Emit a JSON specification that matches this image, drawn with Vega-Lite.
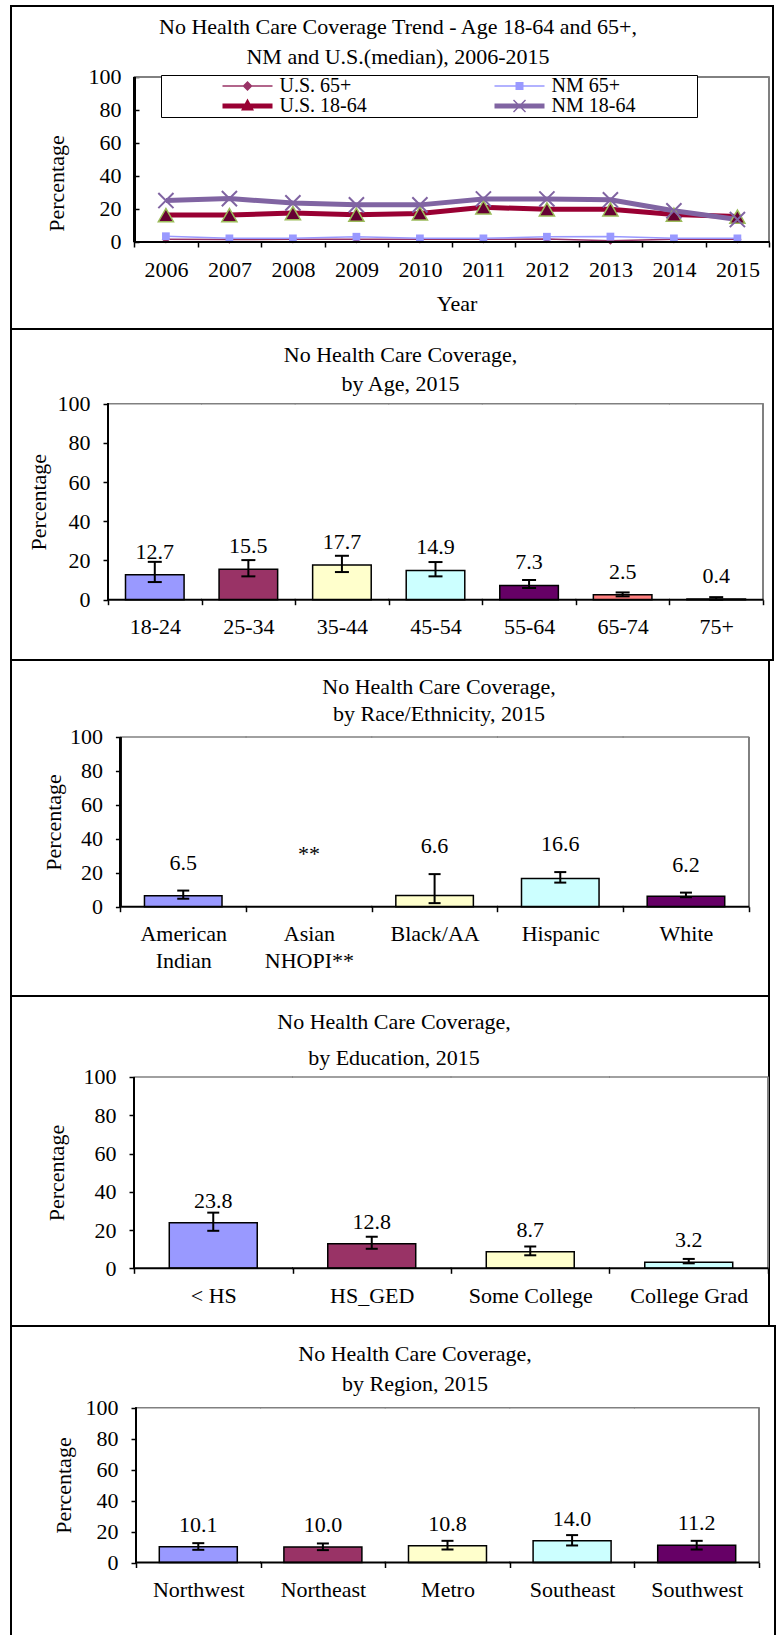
{
  "$schema": "https://vega.github.io/schema/vega-lite/v6.json",
  "background": "white",
  "padding": {"left": 10, "top": 5, "right": 2, "bottom": 0},
  "spacing": 0,
  "bounds": "flush",
  "resolve": {"scale": {"fill": "independent"}},
  "config": {
    "font": "Liberation Serif",
    "view": {"stroke": "black", "strokeWidth": 2},
    "axis": {"labelFont": "Liberation Serif", "labelFontSize": 22, "labelColor": "black", "titleFont": "Liberation Serif", "titleFontSize": 22, "titleFontWeight": "normal", "titleColor": "black", "tickColor": "black", "tickWidth": 1.5, "tickSize": 5, "grid": false, "domain": false, "labelPadding": 12},
    "axisY": {"labelPadding": 13},
    "title": {"font": "Liberation Serif", "fontSize": 22, "fontWeight": "normal", "color": "black", "anchor": "middle", "frame": "group"},
    "text": {"font": "Liberation Serif", "fontSize": 22, "color": "black", "baseline": "middle"},
    "legend": {"labelFont": "Liberation Serif", "titleFont": "Liberation Serif"}
  },
  "vconcat": [
    {
      "width": 762, "height": 323,
      "title": {"text": ["No Health Care Coverage Trend - Age 18-64 and 65+,", "NM and U.S.(median), 2006-2015"], "offset": -62.5, "lineHeight": 30, "dx": 6},
      "data": {"values": [
        {"year": "2006", "series": "U.S. 65+", "v": 1.6}, {"year": "2007", "series": "U.S. 65+", "v": 1.5}, {"year": "2008", "series": "U.S. 65+", "v": 1.6}, {"year": "2009", "series": "U.S. 65+", "v": 1.6}, {"year": "2010", "series": "U.S. 65+", "v": 1.6}, {"year": "2011", "series": "U.S. 65+", "v": 1.6}, {"year": "2012", "series": "U.S. 65+", "v": 1.8}, {"year": "2013", "series": "U.S. 65+", "v": 0.8}, {"year": "2014", "series": "U.S. 65+", "v": 1.6}, {"year": "2015", "series": "U.S. 65+", "v": 1.6},
        {"year": "2006", "series": "NM 65+", "v": 3.5}, {"year": "2007", "series": "NM 65+", "v": 2.2}, {"year": "2008", "series": "NM 65+", "v": 2.2}, {"year": "2009", "series": "NM 65+", "v": 3.2}, {"year": "2010", "series": "NM 65+", "v": 2.2}, {"year": "2011", "series": "NM 65+", "v": 2.2}, {"year": "2012", "series": "NM 65+", "v": 3.2}, {"year": "2013", "series": "NM 65+", "v": 3.3}, {"year": "2014", "series": "NM 65+", "v": 2.2}, {"year": "2015", "series": "NM 65+", "v": 2.2},
        {"year": "2006", "series": "U.S. 18-64", "v": 16.3}, {"year": "2007", "series": "U.S. 18-64", "v": 16.3}, {"year": "2008", "series": "U.S. 18-64", "v": 17.5}, {"year": "2009", "series": "U.S. 18-64", "v": 16.5}, {"year": "2010", "series": "U.S. 18-64", "v": 17.3}, {"year": "2011", "series": "U.S. 18-64", "v": 21.0}, {"year": "2012", "series": "U.S. 18-64", "v": 19.8}, {"year": "2013", "series": "U.S. 18-64", "v": 19.8}, {"year": "2014", "series": "U.S. 18-64", "v": 16.6}, {"year": "2015", "series": "U.S. 18-64", "v": 15.4},
        {"year": "2006", "series": "NM 18-64", "v": 25.1}, {"year": "2007", "series": "NM 18-64", "v": 26.3}, {"year": "2008", "series": "NM 18-64", "v": 23.7}, {"year": "2009", "series": "NM 18-64", "v": 22.5}, {"year": "2010", "series": "NM 18-64", "v": 22.5}, {"year": "2011", "series": "NM 18-64", "v": 26.1}, {"year": "2012", "series": "NM 18-64", "v": 26.1}, {"year": "2013", "series": "NM 18-64", "v": 25.6}, {"year": "2014", "series": "NM 18-64", "v": 18.9}, {"year": "2015", "series": "NM 18-64", "v": 13.6}
      ]},
      "encoding": {
        "x": {"field": "year", "type": "nominal", "sort": null,
          "scale": {"domain": ["2006", "2007", "2008", "2009", "2010", "2011", "2012", "2013", "2014", "2015"], "paddingInner": 0, "paddingOuter": 1.0476, "align": 0.9697},
          "axis": {"title": "Year", "titleX": 445.6, "titleY": 61, "titleBaseline": "middle", "labelAngle": 0, "tickBand": "extent", "offset": -87}}
      },
      "layer": [
        {"mark": {"type": "tick", "orient": "horizontal", "color": "#808080", "thickness": 1.5, "size": 64, "opacity": 1},
         "encoding": {"y": {"datum": 100, "type": "quantitative", "scale": {"domain": [-52.73, 143.03], "nice": false, "zero": false}}}},
        {"mark": {"type": "rule", "color": "#808080", "strokeWidth": 1.5},
         "encoding": {"x": {"datum": "2015", "type": "nominal", "bandPosition": 1}, "y": {"datum": 0, "type": "quantitative", "scale": {"domain": [-52.73, 143.03], "nice": false, "zero": false}}, "y2": {"datum": 100}}},
        {"transform": [{"filter": "datum.series == 'U.S. 65+'"}],
         "mark": {"type": "line", "strokeWidth": 1.5, "color": "#993366"},
         "encoding": {
           "y": {"field": "v", "type": "quantitative", "scale": {"domain": [-52.73, 143.03], "nice": false, "zero": false},
             "axis": {"values": [0, 20, 40, 60, 80, 100], "offset": -128, "title": "Percentage", "titleX": -83, "titleY": 177, "titleBaseline": "middle"}}
         }},
        {"transform": [{"filter": "datum.series == 'NM 65+'"}],
         "mark": {"type": "line", "strokeWidth": 1.5, "color": "#9999FF"},
         "encoding": {"y": {"field": "v", "type": "quantitative", "scale": {"domain": [-52.73, 143.03], "nice": false, "zero": false}}}},
        {"transform": [{"filter": "datum.series == 'U.S. 18-64'"}],
         "mark": {"type": "line", "strokeWidth": 5, "color": "#990033"},
         "encoding": {"y": {"field": "v", "type": "quantitative", "scale": {"domain": [-52.73, 143.03], "nice": false, "zero": false}}}},
        {"transform": [{"filter": "datum.series == 'NM 18-64'"}],
         "mark": {"type": "line", "strokeWidth": 5, "color": "#8064A2"},
         "encoding": {"y": {"field": "v", "type": "quantitative", "scale": {"domain": [-52.73, 143.03], "nice": false, "zero": false}}}},
        {"transform": [{"filter": "datum.series == 'U.S. 65+'"}],
         "mark": {"type": "point", "shape": "diamond", "filled": true, "color": "#993366", "size": 70, "opacity": 1},
         "encoding": {"y": {"field": "v", "type": "quantitative", "scale": {"domain": [-52.73, 143.03], "nice": false, "zero": false}}}},
        {"transform": [{"filter": "datum.series == 'NM 65+'"}],
         "mark": {"type": "point", "shape": "square", "filled": true, "color": "#9999FF", "size": 60, "opacity": 1},
         "encoding": {"y": {"field": "v", "type": "quantitative", "scale": {"domain": [-52.73, 143.03], "nice": false, "zero": false}}}},
        {"transform": [{"filter": "datum.series == 'U.S. 18-64'"}],
         "mark": {"type": "point", "shape": "triangle-up", "filled": true, "fill": "#660033", "stroke": "#9BBB59", "strokeWidth": 1.5, "size": 230, "opacity": 1},
         "encoding": {"y": {"field": "v", "type": "quantitative", "scale": {"domain": [-52.73, 143.03], "nice": false, "zero": false}}}},
        {"transform": [{"filter": "datum.series == 'NM 18-64'"}],
         "mark": {"type": "point", "shape": "M-1,-1L1,1M-1,1L1,-1", "filled": false, "stroke": "#8064A2", "strokeWidth": 2, "size": 230, "opacity": 1},
         "encoding": {"y": {"field": "v", "type": "quantitative", "scale": {"domain": [-52.73, 143.03], "nice": false, "zero": false}}}},
        {"transform": [{"filter": "false"}],
         "mark": {"type": "point", "filled": true, "size": 400},
         "encoding": {
           "y": {"field": "v", "type": "quantitative", "scale": {"domain": [-52.73, 143.03], "nice": false, "zero": false}},
           "shape": {"field": "series", "type": "nominal",
             "scale": {"domain": ["U.S. 65+", "NM 65+", "U.S. 18-64", "NM 18-64"], "range": [
               "M-2.5,-0.075L2.5,-0.075L2.5,0.075L-2.5,0.075Z M0,-0.5L0.5,0L0,0.5L-0.5,0Z",
               "M-2.5,-0.075L2.5,-0.075L2.5,0.075L-2.5,0.075Z M-0.4,-0.4L0.4,-0.4L0.4,0.4L-0.4,0.4Z",
               "M-2.5,-0.25L2.5,-0.25L2.5,0.25L-2.5,0.25Z M0,-0.75L0.65,0.45L-0.65,0.45Z",
               "M-2.5,-0.25L2.5,-0.25L2.5,0.25L-2.5,0.25Z M-0.65,-0.55L-0.55,-0.65L0.65,0.55L0.55,0.65Z M-0.65,0.55L0.55,-0.65L0.65,-0.55L-0.55,0.65Z"]},
             "legend": {"title": " ", "titleOrient": "left", "titlePadding": 60.5, "titleFontSize": 22, "orient": "none", "legendX": 150, "legendY": 69, "columns": 2, "direction": "horizontal", "columnPadding": 127, "rowPadding": 0, "padding": 1, "strokeColor": "black", "fillColor": "white", "symbolSize": 400, "symbolOffset": 15, "labelOffset": 22, "labelFontSize": 20, "labelColor": "black", "labelLimit": 400, "symbolStrokeWidth": 0, "symbolOpacity": 1, "labelExpr": "indexof(datum.label, 'NM') == 0 ? datum.label + '\u2800\u2800\u2800\u2800' : datum.label"}},
           "color": {"field": "series", "type": "nominal",
             "scale": {"domain": ["U.S. 65+", "NM 65+", "U.S. 18-64", "NM 18-64"], "range": ["#993366", "#9999FF", "#990033", "#8064A2"]},
             "legend": {"title": " ", "titleOrient": "left", "titlePadding": 60.5, "titleFontSize": 22, "orient": "none", "legendX": 150, "legendY": 69, "columns": 2, "direction": "horizontal", "columnPadding": 127, "rowPadding": 0, "padding": 1, "strokeColor": "black", "fillColor": "white", "symbolSize": 400, "symbolOffset": 15, "labelOffset": 22, "labelFontSize": 20, "labelColor": "black", "labelLimit": 400, "symbolStrokeWidth": 0, "symbolOpacity": 1, "labelExpr": "indexof(datum.label, 'NM') == 0 ? datum.label + '\u2800\u2800\u2800\u2800' : datum.label"}}
         }},
        {"mark": {"type": "tick", "orient": "horizontal", "color": "black", "thickness": 2, "size": 64, "opacity": 1},
         "encoding": {"y": {"datum": 0, "type": "quantitative", "scale": {"domain": [-52.73, 143.03], "nice": false, "zero": false}}}},
        {"mark": {"type": "rule", "color": "black", "strokeWidth": 2},
         "encoding": {"x": {"datum": "2006", "type": "nominal", "bandPosition": 0}, "y": {"datum": 0, "type": "quantitative", "scale": {"domain": [-52.73, 143.03], "nice": false, "zero": false}}, "y2": {"datum": 100}}}
      ]
    },
    {
      "width": 762, "height": 331,
      "title": {"text": ["No Health Care Coverage,", "by Age, 2015"], "offset": -66.5, "lineHeight": 29, "dx": 8.5},
      "data": {"values": [
        {"age": "18-24", "pct": 12.7, "lo": 9.0, "hi": 19.3},
        {"age": "25-34", "pct": 15.5, "lo": 11.9, "hi": 20.2},
        {"age": "35-44", "pct": 17.7, "lo": 14.1, "hi": 22.4},
        {"age": "45-54", "pct": 14.9, "lo": 11.9, "hi": 19.2},
        {"age": "55-64", "pct": 7.3, "lo": 5.9, "hi": 10.0},
        {"age": "65-74", "pct": 2.5, "lo": 1.7, "hi": 3.7},
        {"age": "75+", "pct": 0.4, "lo": 0.0, "hi": 1.3}
      ]},
      "encoding": {
        "x": {"field": "age", "type": "nominal", "sort": null,
          "scale": {"domain": ["18-24", "25-34", "35-44", "45-54", "55-64", "65-74", "75+"], "paddingInner": 0, "paddingOuter": 0.5718, "align": 0.9065},
          "axis": {"title": null, "labelAngle": 0, "tickBand": "extent", "offset": -60.3}}
      },
      "layer": [
        {"mark": {"type": "tick", "orient": "horizontal", "color": "#808080", "thickness": 1.5, "size": 94.6, "opacity": 1},
         "encoding": {"y": {"datum": 100, "type": "quantitative", "scale": {"domain": [-30.77, 138.1], "nice": false, "zero": false}}}},
        {"mark": {"type": "rule", "color": "#808080", "strokeWidth": 1.5},
         "encoding": {"x": {"datum": "75+", "type": "nominal", "bandPosition": 1}, "y": {"datum": 0, "type": "quantitative", "scale": {"domain": [-30.77, 138.1], "nice": false, "zero": false}}, "y2": {"datum": 100}}},
        {"mark": {"type": "bar", "width": {"band": 0.626}, "stroke": "black", "strokeWidth": 1.5},
         "encoding": {
           "y": {"field": "pct", "type": "quantitative", "scale": {"domain": [-30.77, 138.1], "nice": false, "zero": false},
             "axis": {"values": [0, 20, 40, 60, 80, 100], "offset": -97, "title": "Percentage", "titleX": -70, "titleY": 172.7, "titleBaseline": "middle"}},
           "fill": {"field": "age", "type": "nominal", "scale": {"domain": ["18-24", "25-34", "35-44", "45-54", "55-64", "65-74", "75+"], "range": ["#9999FF", "#993366", "#FFFFCC", "#CCFFFF", "#660066", "#FF8080", "#0066CC"]}, "legend": null}
         }},
        {"mark": {"type": "rule", "color": "black", "strokeWidth": 2},
         "encoding": {"y": {"field": "lo", "type": "quantitative", "scale": {"domain": [-30.77, 138.1], "nice": false, "zero": false}}, "y2": {"field": "hi"}}},
        {"transform": [{"fold": ["lo", "hi"], "as": ["end", "val"]}],
         "mark": {"type": "tick", "orient": "horizontal", "color": "black", "thickness": 2, "size": 14, "opacity": 1},
         "encoding": {"y": {"field": "val", "type": "quantitative", "scale": {"domain": [-30.77, 138.1], "nice": false, "zero": false}}}},
        {"mark": {"type": "text", "dy": -23},
         "encoding": {"y": {"field": "pct", "type": "quantitative", "scale": {"domain": [-30.77, 138.1], "nice": false, "zero": false}}, "text": {"field": "pct", "type": "quantitative", "format": ".1f"}}},
        {"mark": {"type": "tick", "orient": "horizontal", "color": "black", "thickness": 2, "size": 94.6, "opacity": 1},
         "encoding": {"y": {"datum": 0, "type": "quantitative", "scale": {"domain": [-30.77, 138.1], "nice": false, "zero": false}}}},
        {"mark": {"type": "rule", "color": "black", "strokeWidth": 2},
         "encoding": {"x": {"datum": "18-24", "type": "nominal", "bandPosition": 0}, "y": {"datum": 0, "type": "quantitative", "scale": {"domain": [-30.77, 138.1], "nice": false, "zero": false}}, "y2": {"datum": 100}}}
      ]
    },
    {
      "width": 758, "height": 336,
      "title": {"text": ["No Health Care Coverage,", "by Race/Ethnicity, 2015"], "offset": -65.5, "lineHeight": 27, "dx": 49},
      "data": {"values": [
        {"race": "American Indian", "pct": 6.5, "lo": 4.7, "hi": 9.5},
        {"race": "Asian NHOPI**", "pct": null, "lo": null, "hi": null, "note": "**"},
        {"race": "Black/AA", "pct": 6.6, "lo": 2.1, "hi": 19.2},
        {"race": "Hispanic", "pct": 16.6, "lo": 14.2, "hi": 20.4},
        {"race": "White", "pct": 6.2, "lo": 5.6, "hi": 8.3}
      ]},
      "encoding": {
        "x": {"field": "race", "type": "nominal", "sort": null,
          "scale": {"domain": ["American Indian", "Asian NHOPI**", "Black/AA", "Hispanic", "White"], "paddingInner": 0, "paddingOuter": 0.5156, "align": 0.8441},
          "axis": {"title": null, "labelAngle": 0, "tickBand": "extent", "offset": -89.3, "labelExpr": "split(datum.label, ' ')", "labelLineHeight": 27}}
      },
      "layer": [
        {"mark": {"type": "tick", "orient": "horizontal", "color": "#808080", "thickness": 1.5, "size": 126.7, "opacity": 1},
         "encoding": {"y": {"datum": 100, "type": "quantitative", "scale": {"domain": [-52.62, 145.37], "nice": false, "zero": false}}}},
        {"mark": {"type": "rule", "color": "#808080", "strokeWidth": 1.5},
         "encoding": {"x": {"datum": "White", "type": "nominal", "bandPosition": 1}, "y": {"datum": 0, "type": "quantitative", "scale": {"domain": [-52.62, 145.37], "nice": false, "zero": false}}, "y2": {"datum": 100}}},
        {"mark": {"type": "bar", "width": {"band": 0.617}, "stroke": "black", "strokeWidth": 1.5},
         "encoding": {
           "y": {"field": "pct", "type": "quantitative", "scale": {"domain": [-52.62, 145.37], "nice": false, "zero": false},
             "axis": {"values": [0, 20, 40, 60, 80, 100], "offset": -109.4, "title": "Percentage", "titleX": -67, "titleY": 161.9, "titleBaseline": "middle"}},
           "fill": {"field": "race", "type": "nominal", "scale": {"domain": ["American Indian", "Asian NHOPI**", "Black/AA", "Hispanic", "White"], "range": ["#9999FF", "#993366", "#FFFFCC", "#CCFFFF", "#660066"]}, "legend": null}
         }},
        {"mark": {"type": "rule", "color": "black", "strokeWidth": 2},
         "encoding": {"y": {"field": "lo", "type": "quantitative", "scale": {"domain": [-52.62, 145.37], "nice": false, "zero": false}}, "y2": {"field": "hi"}}},
        {"transform": [{"fold": ["lo", "hi"], "as": ["end", "val"]}],
         "mark": {"type": "tick", "orient": "horizontal", "color": "black", "thickness": 2, "size": 12, "opacity": 1},
         "encoding": {"y": {"field": "val", "type": "quantitative", "scale": {"domain": [-52.62, 145.37], "nice": false, "zero": false}}}},
        {"mark": {"type": "text", "dy": -28},
         "encoding": {"y": {"field": "hi", "type": "quantitative", "scale": {"domain": [-52.62, 145.37], "nice": false, "zero": false}}, "text": {"field": "pct", "type": "quantitative", "format": ".1f"}}},
        {"transform": [{"filter": "datum.note != null"}],
         "mark": {"type": "text", "baseline": "alphabetic", "dy": -46},
         "encoding": {"y": {"datum": 0, "type": "quantitative", "scale": {"domain": [-52.62, 145.37], "nice": false, "zero": false}}, "text": {"field": "note", "type": "nominal"}}},
        {"mark": {"type": "tick", "orient": "horizontal", "color": "black", "thickness": 2, "size": 126.7, "opacity": 1},
         "encoding": {"y": {"datum": 0, "type": "quantitative", "scale": {"domain": [-52.62, 145.37], "nice": false, "zero": false}}}},
        {"mark": {"type": "rule", "color": "black", "strokeWidth": 2},
         "encoding": {"x": {"datum": "American Indian", "type": "nominal", "bandPosition": 0}, "y": {"datum": 0, "type": "quantitative", "scale": {"domain": [-52.62, 145.37], "nice": false, "zero": false}}, "y2": {"datum": 100}}}
      ]
    },
    {
      "width": 758, "height": 330,
      "title": {"text": ["No Health Care Coverage,", "by Education, 2015"], "offset": -73.5, "lineHeight": 36, "dx": 4},
      "data": {"values": [
        {"edu": "< HS", "pct": 23.8, "lo": 19.6, "hi": 29.1},
        {"edu": "HS_GED", "pct": 12.8, "lo": 10.2, "hi": 16.5},
        {"edu": "Some College", "pct": 8.7, "lo": 6.8, "hi": 11.4},
        {"edu": "College Grad", "pct": 3.2, "lo": 2.6, "hi": 4.9}
      ]},
      "encoding": {
        "x": {"field": "edu", "type": "nominal", "sort": null,
          "scale": {"domain": ["< HS", "HS_GED", "Some College", "College Grad"], "paddingInner": 0, "paddingOuter": 0.3912, "align": 0.9919},
          "axis": {"title": null, "labelAngle": 0, "tickBand": "extent", "offset": -57.7}}
      },
      "layer": [
        {"mark": {"type": "tick", "orient": "horizontal", "color": "#808080", "thickness": 1.5, "size": 159.5, "opacity": 1},
         "encoding": {"y": {"datum": 100, "type": "quantitative", "scale": {"domain": [-30.16, 142.34], "nice": false, "zero": false}}}},
        {"mark": {"type": "rule", "color": "#808080", "strokeWidth": 1.5},
         "encoding": {"x": {"datum": "College Grad", "type": "nominal", "bandPosition": 1}, "y": {"datum": 0, "type": "quantitative", "scale": {"domain": [-30.16, 142.34], "nice": false, "zero": false}}, "y2": {"datum": 100}}},
        {"mark": {"type": "bar", "width": {"band": 0.555}, "stroke": "black", "strokeWidth": 1.5},
         "encoding": {
           "y": {"field": "pct", "type": "quantitative", "scale": {"domain": [-30.16, 142.34], "nice": false, "zero": false},
             "axis": {"values": [0, 20, 40, 60, 80, 100], "offset": -123, "title": "Percentage", "titleX": -78, "titleY": 176.6, "titleBaseline": "middle"}},
           "fill": {"field": "edu", "type": "nominal", "scale": {"domain": ["< HS", "HS_GED", "Some College", "College Grad"], "range": ["#9999FF", "#993366", "#FFFFCC", "#CCFFFF"]}, "legend": null}
         }},
        {"mark": {"type": "rule", "color": "black", "strokeWidth": 2},
         "encoding": {"y": {"field": "lo", "type": "quantitative", "scale": {"domain": [-30.16, 142.34], "nice": false, "zero": false}}, "y2": {"field": "hi"}}},
        {"transform": [{"fold": ["lo", "hi"], "as": ["end", "val"]}],
         "mark": {"type": "tick", "orient": "horizontal", "color": "black", "thickness": 2, "size": 12, "opacity": 1},
         "encoding": {"y": {"field": "val", "type": "quantitative", "scale": {"domain": [-30.16, 142.34], "nice": false, "zero": false}}}},
        {"mark": {"type": "text", "dy": -22},
         "encoding": {"y": {"field": "pct", "type": "quantitative", "scale": {"domain": [-30.16, 142.34], "nice": false, "zero": false}}, "text": {"field": "pct", "type": "quantitative", "format": ".1f"}}},
        {"mark": {"type": "tick", "orient": "horizontal", "color": "black", "thickness": 2, "size": 159.5, "opacity": 1},
         "encoding": {"y": {"datum": 0, "type": "quantitative", "scale": {"domain": [-30.16, 142.34], "nice": false, "zero": false}}}},
        {"mark": {"type": "rule", "color": "black", "strokeWidth": 2},
         "encoding": {"x": {"datum": "< HS", "type": "nominal", "bandPosition": 0}, "y": {"datum": 0, "type": "quantitative", "scale": {"domain": [-30.16, 142.34], "nice": false, "zero": false}}, "y2": {"datum": 100}}}
      ]
    },
    {
      "width": 764, "height": 315,
      "title": {"text": ["No Health Care Coverage,", "by Region, 2015"], "offset": -69.5, "lineHeight": 30, "dx": 22},
      "data": {"values": [
        {"region": "Northwest", "pct": 10.1, "lo": 8.2, "hi": 12.5},
        {"region": "Northeast", "pct": 10.0, "lo": 8.0, "hi": 12.3},
        {"region": "Metro", "pct": 10.8, "lo": 8.4, "hi": 14.0},
        {"region": "Southeast", "pct": 14.0, "lo": 11.0, "hi": 17.7},
        {"region": "Southwest", "pct": 11.2, "lo": 8.4, "hi": 14.0}
      ]},
      "encoding": {
        "x": {"field": "region", "type": "nominal", "sort": null,
          "scale": {"domain": ["Northwest", "Northeast", "Metro", "Southeast", "Southwest"], "paddingInner": 0, "paddingOuter": 0.5658, "align": 0.8865},
          "axis": {"title": null, "labelAngle": 0, "tickBand": "extent", "offset": -78.5}}
      },
      "layer": [
        {"mark": {"type": "tick", "orient": "horizontal", "color": "#808080", "thickness": 1.5, "size": 125.6, "opacity": 1},
         "encoding": {"y": {"datum": 100, "type": "quantitative", "scale": {"domain": [-50.71, 152.78], "nice": false, "zero": false}}}},
        {"mark": {"type": "rule", "color": "#808080", "strokeWidth": 1.5},
         "encoding": {"x": {"datum": "Southwest", "type": "nominal", "bandPosition": 1}, "y": {"datum": 0, "type": "quantitative", "scale": {"domain": [-50.71, 152.78], "nice": false, "zero": false}}, "y2": {"datum": 100}}},
        {"mark": {"type": "bar", "width": {"band": 0.626}, "stroke": "black", "strokeWidth": 1.5},
         "encoding": {
           "y": {"field": "pct", "type": "quantitative", "scale": {"domain": [-50.71, 152.78], "nice": false, "zero": false},
             "axis": {"values": [0, 20, 40, 60, 80, 100], "offset": -125, "title": "Percentage", "titleX": -73, "titleY": 159.1, "titleBaseline": "middle"}},
           "fill": {"field": "region", "type": "nominal", "scale": {"domain": ["Northwest", "Northeast", "Metro", "Southeast", "Southwest"], "range": ["#9999FF", "#993366", "#FFFFCC", "#CCFFFF", "#660066"]}, "legend": null}
         }},
        {"mark": {"type": "rule", "color": "black", "strokeWidth": 2},
         "encoding": {"y": {"field": "lo", "type": "quantitative", "scale": {"domain": [-50.71, 152.78], "nice": false, "zero": false}}, "y2": {"field": "hi"}}},
        {"transform": [{"fold": ["lo", "hi"], "as": ["end", "val"]}],
         "mark": {"type": "tick", "orient": "horizontal", "color": "black", "thickness": 2, "size": 12, "opacity": 1},
         "encoding": {"y": {"field": "val", "type": "quantitative", "scale": {"domain": [-50.71, 152.78], "nice": false, "zero": false}}}},
        {"mark": {"type": "text", "dy": -22},
         "encoding": {"y": {"field": "pct", "type": "quantitative", "scale": {"domain": [-50.71, 152.78], "nice": false, "zero": false}}, "text": {"field": "pct", "type": "quantitative", "format": ".1f"}}},
        {"mark": {"type": "tick", "orient": "horizontal", "color": "black", "thickness": 2, "size": 125.6, "opacity": 1},
         "encoding": {"y": {"datum": 0, "type": "quantitative", "scale": {"domain": [-50.71, 152.78], "nice": false, "zero": false}}}},
        {"mark": {"type": "rule", "color": "black", "strokeWidth": 2},
         "encoding": {"x": {"datum": "Northwest", "type": "nominal", "bandPosition": 0}, "y": {"datum": 0, "type": "quantitative", "scale": {"domain": [-50.71, 152.78], "nice": false, "zero": false}}, "y2": {"datum": 100}}}
      ]
    }
  ]
}
